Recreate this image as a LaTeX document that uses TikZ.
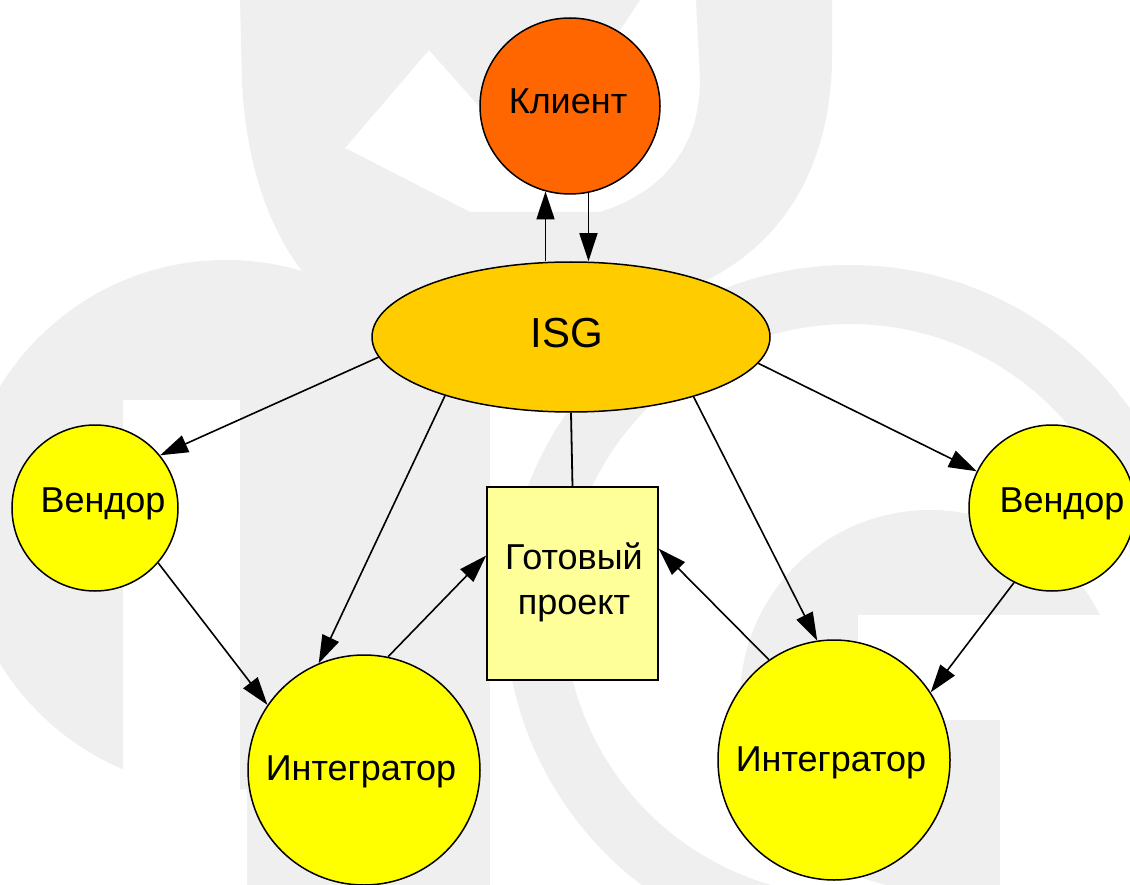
\documentclass[tikz,border=0pt]{standalone}
\usepackage{fontspec}
\setmainfont{Liberation Sans}
\usetikzlibrary{shapes.geometric,arrows.meta}
\definecolor{wm}{HTML}{EFEFEF}
\definecolor{clientc}{HTML}{FF6600}
\definecolor{isgc}{HTML}{FFCC00}
\definecolor{yelc}{HTML}{FFFF00}
\definecolor{boxc}{HTML}{FFFF99}
\begin{document}
\begin{tikzpicture}[x=1pt,y=-1pt,
  lbl/.style={font=\fontsize{36}{45}\selectfont},
  bubble/.style={ellipse,draw=black,line width=1.5pt,inner sep=0pt,lbl},
  arr/.style={-{Triangle[length=28pt,width=18pt]},line width=1.6pt},
  link/.style={line width=1.8pt}]
\useasboundingbox (0,0) rectangle (1130,885);
\fill[white] (0,0) rectangle (1130,885);
% ---- watermark ----
\begin{scope}
\clip (0,0) rectangle (1130,885);
% top arch
\fill[wm] (240,0) -- (640,0) -- (600,60) -- (500,130) -- (429,50) -- (345,148)
  -- (470,212) -- (600,212)
  .. controls (670,190) and (700,140) .. (700,80) -- (696,0) -- (832,0) -- (832,60)
  .. controls (830,190) and (760,275) .. (650,300) -- (330,300)
  .. controls (270,250) and (245,160) .. (242,80) -- cycle;
% lower left disk
\fill[wm] (226,525) circle[radius=265pt];
\fill[wm] (247,290) rectangle (490,885);
\fill[white] (123,400) rectangle (240,885);
% big G ring
\fill[wm,even odd rule] (850,610) circle[radius=345pt] (850,610) circle[radius=286pt];
% inner G disk
\fill[wm] (930,700) circle[radius=190pt];
\fill[white] (858,615) rectangle (1135,720);
\fill[white] (1000,668) rectangle (1135,885);
\end{scope}
% ---- nodes ----
\node[bubble,fill=clientc,minimum width=180pt,minimum height=176pt] (client) at (570,106) {};
\node[lbl] at (568,101) {Клиент};
\node[bubble,fill=isgc,minimum width=398pt,minimum height=150pt] (isg) at (571,337) {};
\node[font=\fontsize{42}{50}\selectfont] at (567,333) {ISG};
\node[bubble,fill=yelc,minimum width=166pt,minimum height=166pt] (vendl) at (95,508) {};
\node[lbl] at (103,504) {Вендор};
\node[bubble,fill=yelc,minimum width=166pt,minimum height=166pt] (vendr) at (1052,508) {};
\node[lbl] at (1062,504) {Вендор};
\node[bubble,fill=yelc,minimum width=232pt,minimum height=230pt] (intl) at (364,770) {};
\node[lbl] at (361,772) {Интегратор};
\node[bubble,fill=yelc,minimum width=232pt,minimum height=240pt] (intr) at (834,760) {};
\node[lbl] at (831,763) {Интегратор};
\node[draw=black,line width=1.5pt,fill=boxc,minimum width=171pt,minimum height=193pt,inner sep=0pt] (box) at (572.5,583.5) {};
\node[lbl,align=center] at (574,582) {Готовый\\проект};
% ---- connectors ----
\draw[arr] (client.254 |- isg.north) -- (client.254);
\draw[arr] (client.282) -- (client.282 |- isg.north);
\draw[arr] (isg.186) -- (vendl.39);
\draw[arr] (isg.205) -- (intl.113);
\draw[link] (isg.south) -- (box.north);
\draw[arr] (isg.334) -- (intr.98);
\draw[arr] (isg.352) -- (vendr.154);
\draw[arr] (vendl.319) -- (intl.146);
\draw[arr] (intl.78) -- (box.162);
\draw[arr] (intr.123) -- (box.22);
\draw[arr] (vendr.243) -- (intr.35);
\end{tikzpicture}
\end{document}
